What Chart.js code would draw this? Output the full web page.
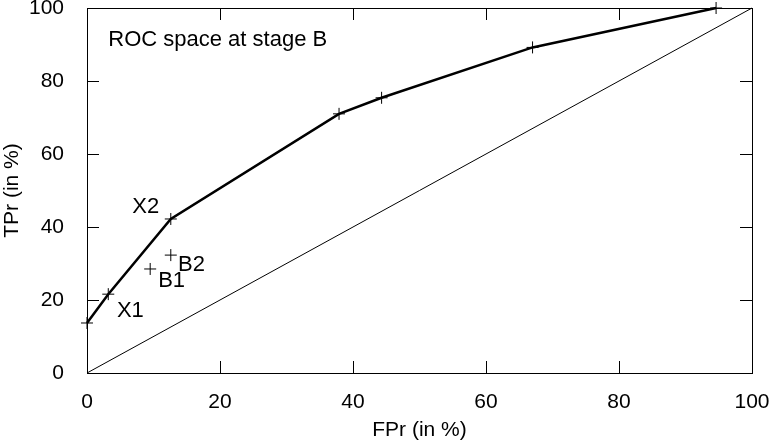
<!DOCTYPE html>
<html>
<head>
<meta charset="utf-8">
<script src="https://cdn.jsdelivr.net/npm/chart.js@4.4.0/dist/chart.umd.min.js"></script>
<style>
  html, body { margin: 0; padding: 0; background: #fff; }
</style>
</head>
<body>
<canvas id="rocChart" width="771" height="443"></canvas>
<script>
// ROC curve (stage B)
const rocFpr = [0, 3.2, 12.6, 37.9, 44.3, 67.0, 94.6];
const rocTpr = [13.7, 21.6, 42.2, 71.0, 75.4, 89.2, 100];
// single classifiers B1, B2
const bFpr = [9.5, 12.6];
const bTpr = [28.5, 32.3];
// random guess diagonal
const diagFpr = [0, 100];
const diagTpr = [0, 100];
const tickValues = [0, 20, 40, 60, 80, 100];
const noteText = ['ROC space at stage B', 'X1', 'X2', 'B1', 'B2'];
const noteFpr = [3.2, 4.5, 6.8, 10.7, 13.7];
const noteTpr = [91.2, 17.0, 45.5, 25.2, 29.6];

const FONT = '"Liberation Sans", Arial, Helvetica, sans-serif';

function toPoints(xs, ys) {
  return xs.map(function (x, i) { return { x: x, y: ys[i] }; });
}

// frame, inward ticks on all four sides, and the text notes
const framePlugin = {
  id: 'frame',
  afterDatasetsDraw: function (chart) {
    const ctx = chart.ctx;
    const a = chart.chartArea;
    const xs = chart.scales.x;
    const ys = chart.scales.y;
    const len = 12;
    ctx.save();
    ctx.strokeStyle = '#000';
    ctx.lineWidth = 1;
    ctx.strokeRect(a.left + 0.5, a.top + 0.5, a.right - a.left, a.bottom - a.top);
    ctx.beginPath();
    tickValues.forEach(function (v) {
      const px = Math.round(xs.getPixelForValue(v)) + 0.5;
      ctx.moveTo(px, a.bottom); ctx.lineTo(px, a.bottom - len);
      ctx.moveTo(px, a.top); ctx.lineTo(px, a.top + len);
      const py = Math.round(ys.getPixelForValue(v)) + 0.5;
      ctx.moveTo(a.left, py); ctx.lineTo(a.left + len, py);
      ctx.moveTo(a.right, py); ctx.lineTo(a.right - len, py);
    });
    ctx.stroke();

    ctx.fillStyle = '#000';
    ctx.font = '22px ' + FONT;
    ctx.textAlign = 'left';
    ctx.textBaseline = 'middle';
    noteText.forEach(function (t, i) {
      ctx.fillText(t, xs.getPixelForValue(noteFpr[i]), ys.getPixelForValue(noteTpr[i]));
    });
    ctx.restore();
  }
};

new Chart(document.getElementById('rocChart'), {
  type: 'scatter',
  data: {
    datasets: [
      {
        label: 'ROC',
        data: toPoints(rocFpr, rocTpr),
        showLine: true,
        borderColor: '#000',
        borderWidth: 2.5,
        pointStyle: 'cross',
        pointRadius: 6,
        pointBorderWidth: 1,
        pointBorderColor: '#000',
        tension: 0,
        clip: false
      },
      {
        label: 'diagonal',
        data: toPoints(diagFpr, diagTpr),
        showLine: true,
        borderColor: '#000',
        borderWidth: 1,
        pointRadius: 0,
        clip: false
      },
      {
        label: 'B',
        data: toPoints(bFpr, bTpr),
        showLine: false,
        pointStyle: 'cross',
        pointRadius: 6,
        pointBorderWidth: 1,
        pointBorderColor: '#000'
      }
    ]
  },
  options: {
    responsive: false,
    animation: false,
    devicePixelRatio: 1,
    layout: { padding: { top: 8, right: 19, left: 0, bottom: 0 } },
    plugins: {
      legend: { display: false },
      tooltip: { enabled: false }
    },
    scales: {
      x: {
        type: 'linear',
        min: 0,
        max: 100,
        grid: { display: false },
        border: { display: false },
        ticks: { stepSize: 20, color: '#000', padding: 9, font: { family: FONT, size: 21 } },
        title: { display: true, text: 'FPr (in %)', color: '#000', padding: 0, font: { family: FONT, size: 21 } },
        afterFit: function (scale) {
          scale.height = 70;
          scale.paddingLeft = 0;
          scale.paddingRight = 0;
        }
      },
      y: {
        type: 'linear',
        min: 0,
        max: 100,
        grid: { display: false },
        border: { display: false },
        ticks: { stepSize: 20, color: '#000', padding: 15, font: { family: FONT, size: 21 } },
        title: { display: true, text: 'TPr (in %)', color: '#000', padding: 0, font: { family: FONT, size: 21 } },
        afterFit: function (scale) {
          scale.width = 87;
          scale.paddingTop = 0;
          scale.paddingBottom = 0;
        }
      }
    }
  },
  plugins: [framePlugin]
});
</script>
</body>
</html>
